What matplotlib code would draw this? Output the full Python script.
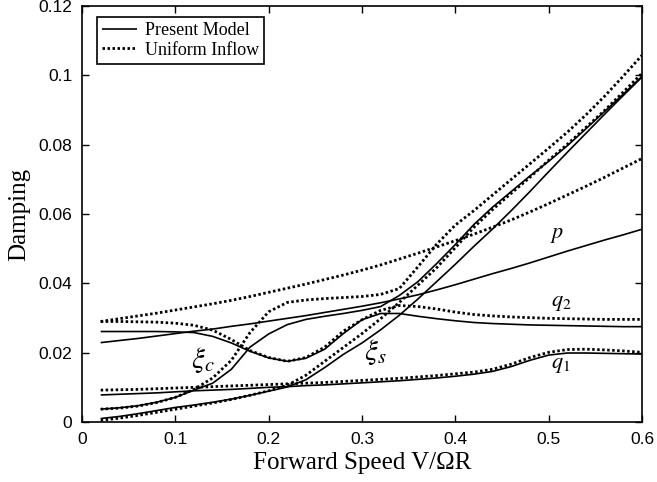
import matplotlib
matplotlib.use("Agg")
import matplotlib.pyplot as plt

# ---------------- data ----------------
speed = [0.02, 0.04, 0.06, 0.08, 0.10, 0.12, 0.14, 0.16, 0.18, 0.20,
         0.22, 0.24, 0.26, 0.28, 0.30, 0.32, 0.34, 0.36, 0.38, 0.40,
         0.42, 0.44, 0.46, 0.48, 0.50, 0.52, 0.54, 0.56, 0.58, 0.60]

p_present = [0.0229, 0.0235, 0.0241, 0.0248, 0.0255, 0.0262, 0.0268, 0.0276, 0.0283, 0.0291,
             0.0299, 0.0307, 0.0316, 0.0325, 0.0334, 0.0344, 0.0355, 0.0367, 0.0381, 0.0396,
             0.0412, 0.0428, 0.0443, 0.0459, 0.0476, 0.0493, 0.0509, 0.0525, 0.0540, 0.0556]
p_uniform = [0.0290, 0.0298, 0.0306, 0.0314, 0.0323, 0.0332, 0.0341, 0.0351, 0.0362, 0.0374,
             0.0386, 0.0398, 0.0411, 0.0424, 0.0438, 0.0453, 0.0470, 0.0487, 0.0505, 0.0523,
             0.0542, 0.0562, 0.0583, 0.0606, 0.0630, 0.0655, 0.0680, 0.0706, 0.0733, 0.0760]

q2_present = [0.0261, 0.0261, 0.0261, 0.0261, 0.0260, 0.0258, 0.0247, 0.0228, 0.0204, 0.0185,
              0.0175, 0.0184, 0.0210, 0.0255, 0.0295, 0.0313, 0.0313, 0.0305, 0.0298, 0.0292,
              0.0287, 0.0284, 0.0282, 0.0280, 0.0279, 0.0278, 0.0277, 0.0276, 0.0275, 0.0275]
q2_uniform = [0.0290, 0.0290, 0.0289, 0.0288, 0.0285, 0.0279, 0.0265, 0.0238, 0.0206, 0.0186,
              0.0175, 0.0186, 0.0216, 0.0262, 0.0295, 0.0322, 0.0336, 0.0333, 0.0326, 0.0317,
              0.0310, 0.0306, 0.0303, 0.0301, 0.0299, 0.0298, 0.0297, 0.0296, 0.0296, 0.0296]

q1_present = [0.0078, 0.0080, 0.0082, 0.0084, 0.0087, 0.0090, 0.0092, 0.0094, 0.0097, 0.0100,
              0.0102, 0.0105, 0.0107, 0.0110, 0.0113, 0.0116, 0.0119, 0.0123, 0.0127, 0.0132,
              0.0138, 0.0146, 0.0160, 0.0178, 0.0193, 0.0199, 0.0199, 0.0198, 0.0197, 0.0196]
q1_uniform = [0.0092, 0.0093, 0.0094, 0.0096, 0.0098, 0.0100, 0.0102, 0.0104, 0.0106, 0.0108,
              0.0110, 0.0112, 0.0114, 0.0117, 0.0120, 0.0123, 0.0126, 0.0130, 0.0134, 0.0139,
              0.0144, 0.0152, 0.0167, 0.0186, 0.0201, 0.0209, 0.0210, 0.0208, 0.0205, 0.0201]

xic_present = [0.0037, 0.0041, 0.0047, 0.0057, 0.0071, 0.0092, 0.0112, 0.0152, 0.0216, 0.0254,
               0.0281, 0.0296, 0.0305, 0.0313, 0.0322, 0.0333, 0.0365, 0.0405, 0.0457, 0.0512,
               0.0570, 0.0620, 0.0665, 0.0710, 0.0752, 0.0797, 0.0846, 0.0896, 0.0946, 0.0997]
xic_uniform = [0.0037, 0.0040, 0.0046, 0.0056, 0.0071, 0.0094, 0.0127, 0.0178, 0.0258, 0.0318,
               0.0345, 0.0352, 0.0356, 0.0359, 0.0362, 0.0368, 0.0385, 0.0448, 0.0513, 0.0568,
               0.0610, 0.0655, 0.0700, 0.0745, 0.0790, 0.0836, 0.0886, 0.0940, 0.0998, 0.1058]

xis_present = [0.0010, 0.0016, 0.0024, 0.0033, 0.0042, 0.0049, 0.0057, 0.0066, 0.0077, 0.0089,
               0.0101, 0.0122, 0.0157, 0.0195, 0.0228, 0.0266, 0.0308, 0.0355, 0.0405, 0.0455,
               0.0507, 0.0557, 0.0610, 0.0665, 0.0722, 0.0778, 0.0833, 0.0888, 0.0942, 0.0995]
xis_uniform = [0.0005, 0.0011, 0.0019, 0.0028, 0.0037, 0.0046, 0.0055, 0.0065, 0.0077, 0.0090,
               0.0106, 0.0135, 0.0175, 0.0215, 0.0255, 0.0298, 0.0345, 0.0395, 0.0445, 0.0503,
               0.0562, 0.0613, 0.0660, 0.0706, 0.0755, 0.0801, 0.0850, 0.0899, 0.0952, 0.1006]

present_series = [p_present, q2_present, q1_present, xic_present, xis_present]
uniform_series = [p_uniform, q2_uniform, q1_uniform, xic_uniform, xis_uniform]

mode_labels = ["$p$", "$q_2$", "$q_1$", r"$\xi_c$", r"$\xi_s$"]
label_pos = [(0.501, 0.0540), (0.503, 0.0343), (0.503, 0.0164), (0.117, 0.0179), (0.302, 0.0202)]
label_sizes = [16, 16, 16, 21, 21]

legend_labels = ["Present Model", "Uniform Inflow"]
x_ticks = [0, 0.1, 0.2, 0.3, 0.4, 0.5, 0.6]
x_tick_labels = ["0", "0.1", "0.2", "0.3", "0.4", "0.5", "0.6"]
y_ticks = [0, 0.02, 0.04, 0.06, 0.08, 0.10, 0.12]
y_tick_labels = ["0", "0.02", "0.04", "0.06", "0.08", "0.1", "0.12"]
x_label = "Forward Speed V/\u03a9R"
y_label = "Damping"

# ---------------- figure ----------------
plt.rcParams["mathtext.fontset"] = "stix"
fig = plt.figure(figsize=(6.57, 4.82), dpi=100)
ax = fig.add_axes([82 / 657, 1 - 422 / 482, 560 / 657, 416 / 482])

dot_style = (0, (0.9, 0.9))
for i, (sp, su) in enumerate(zip(present_series, uniform_series)):
    ax.plot(speed, sp, color="black", lw=1.2, solid_capstyle="butt",
            label=legend_labels[0] if i == 0 else None)
    ax.plot(speed, su, color="black", lw=2.0, linestyle=dot_style,
            label=legend_labels[1] if i == 0 else None)

for txt, (lx, ly), fs in zip(mode_labels, label_pos, label_sizes):
    ax.text(lx, ly, txt, fontsize=fs, ha="left", va="center")

ax.set_xlim(0, 0.6)
ax.set_ylim(0, 0.12)
ax.set_xticks(x_ticks)
ax.set_xticklabels(x_tick_labels)
ax.set_yticks(y_ticks)
ax.set_yticklabels(y_tick_labels)
ax.tick_params(direction="in", top=True, right=True, length=5, width=1.0,
               labelsize=12.5, pad=7)
for lab in ax.get_xticklabels() + ax.get_yticklabels():
    lab.set_family("Liberation Sans")
for s in ax.spines.values():
    s.set_linewidth(1.2)

ax.set_xlabel(x_label, family="Liberation Serif", fontsize=18, labelpad=4)
ax.set_ylabel(y_label, family="Liberation Serif", fontsize=18, labelpad=6)

leg = ax.legend(loc="upper left", bbox_to_anchor=(0.0268, 0.9736), borderaxespad=0,
                fancybox=False, edgecolor="black", framealpha=1,
                prop={"family": "Liberation Serif", "size": 13},
                handlelength=1.9, handletextpad=0.45, labelspacing=0.12, borderpad=0.3)
leg.get_frame().set_linewidth(1.2)

fig.savefig("out.png", dpi=100)
